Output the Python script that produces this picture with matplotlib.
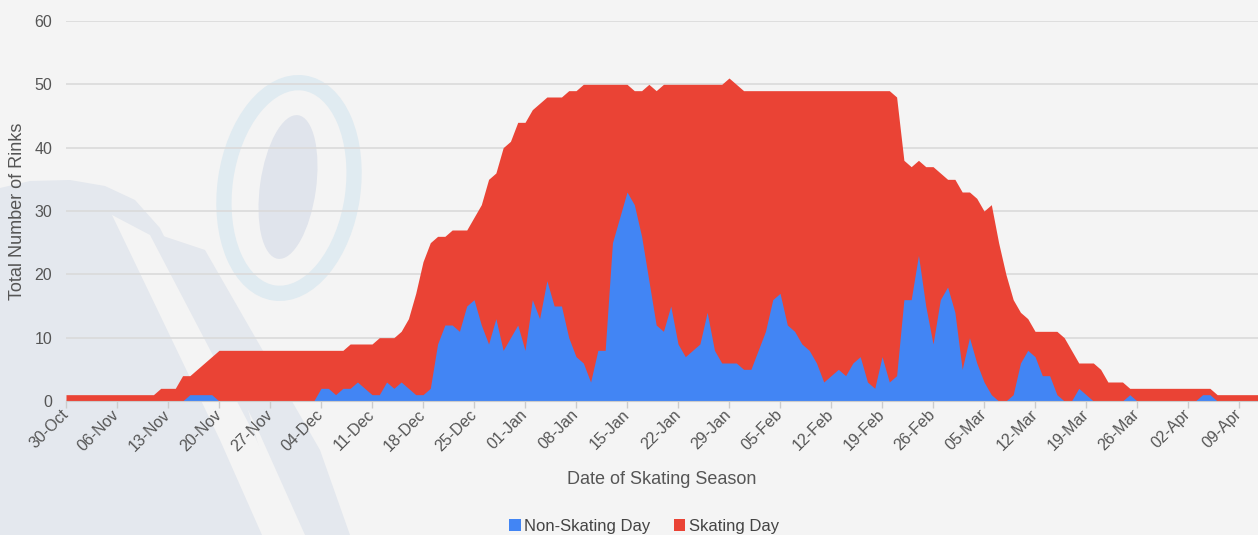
import numpy as np
import pandas as pd
import matplotlib
matplotlib.use('Agg')
import matplotlib.pyplot as plt
from matplotlib.patches import Ellipse, Polygon, Patch

plt.rcParams['font.family'] = ['Liberation Sans', 'DejaVu Sans']

# daily counts, 30-Oct to 12-Apr (one row per week)
total_rinks = [
    1, 1, 1, 1, 1, 1, 1,
    1, 1, 1, 1, 1, 1, 2,
    2, 2, 4, 4, 5, 6, 7,
    8, 8, 8, 8, 8, 8, 8,
    8, 8, 8, 8, 8, 8, 8,
    8, 8, 8, 8, 9, 9, 9,
    9, 10, 10, 10, 11, 13, 17,
    22, 25, 26, 26, 27, 27, 27,
    29, 31, 35, 36, 40, 41, 44,
    44, 46, 47, 48, 48, 48, 49,
    49, 50, 50, 50, 50, 50, 50,
    50, 49, 49, 50, 49, 50, 50,
    50, 50, 50, 50, 50, 50, 50,
    51, 50, 49, 49, 49, 49, 49,
    49, 49, 49, 49, 49, 49, 49,
    49, 49, 49, 49, 49, 49, 49,
    49, 49, 48, 38, 37, 38, 37,
    37, 36, 35, 35, 33, 33, 32,
    30, 31, 25, 20, 16, 14, 13,
    11, 11, 11, 11, 10, 8, 6,
    6, 6, 5, 3, 3, 3, 2,
    2, 2, 2, 2, 2, 2, 2,
    2, 2, 2, 2, 1, 1, 1,
    1, 1, 1, 1,
]
non_skating = [
    0, 0, 0, 0, 0, 0, 0,
    0, 0, 0, 0, 0, 0, 0,
    0, 0, 0, 1, 1, 1, 1,
    0, 0, 0, 0, 0, 0, 0,
    0, 0, 0, 0, 0, 0, 0,
    2, 2, 1, 2, 2, 3, 2,
    1, 1, 3, 2, 3, 2, 1,
    1, 2, 9, 12, 12, 11, 15,
    16, 12, 9, 13, 8, 10, 12,
    8, 16, 13, 19, 15, 15, 10,
    7, 6, 3, 8, 8, 25, 29,
    33, 31, 26, 19, 12, 11, 15,
    9, 7, 8, 9, 14, 8, 6,
    6, 6, 5, 5, 8, 11, 16,
    17, 12, 11, 9, 8, 6, 3,
    4, 5, 4, 6, 7, 3, 2,
    7, 3, 4, 16, 16, 23, 15,
    9, 16, 18, 14, 5, 10, 6,
    3, 1, 0, 0, 1, 6, 8,
    7, 4, 4, 1, 0, 0, 2,
    1, 0, 0, 0, 0, 0, 1,
    0, 0, 0, 0, 0, 0, 0,
    0, 0, 1, 1, 0, 0, 0,
    0, 0, 0, 0,
]
tick_labels = ['30-Oct', '06-Nov', '13-Nov', '20-Nov', '27-Nov', '04-Dec',
               '11-Dec', '18-Dec', '25-Dec', '01-Jan', '08-Jan', '15-Jan',
               '22-Jan', '29-Jan', '05-Feb', '12-Feb', '19-Feb', '26-Feb',
               '05-Mar', '12-Mar', '19-Mar', '26-Mar', '02-Apr', '09-Apr']

dates = pd.date_range('2022-10-30', periods=len(total_rinks), freq='D')
df = pd.DataFrame({'total': total_rinks, 'non_skating': non_skating}, index=dates)
df['skating'] = df['total'] - df['non_skating']
x = np.arange(len(df))

BLUE = '#4285f4'
RED = '#ea4335'
BG = '#f4f4f4'
TXT = '#555555'
WM = '#e4e8ee'

W, H = 1258, 535
fig = plt.figure(figsize=(W / 100, H / 100), dpi=100, facecolor=BG)

# faint logo watermark behind the plot
bg = fig.add_axes([0, 0, 1, 1])
bg.set_xlim(0, W)
bg.set_ylim(H, 0)
bg.axis('off')
bg.add_patch(Polygon([(0, 188), (30, 181), (70, 180), (105, 186), (135, 200), (160, 228),
                      (245, 400), (285, 535), (0, 535)],
                     closed=True, fc=WM, ec='none'))
bg.add_patch(Polygon([(112, 215), (150, 235), (252, 430), (300, 535), (262, 535), (220, 440)],
                     closed=True, fc=BG, ec='none'))
bg.add_patch(Polygon([(160, 235), (205, 250), (320, 450), (350, 535), (305, 535), (258, 430)],
                     closed=True, fc=WM, ec='none'))
bg.add_patch(Ellipse((289, 188), 128, 212, angle=8, fill=False, ec='#e0ebf1', lw=11))
bg.add_patch(Ellipse((288, 187), 56, 145, angle=8, fc='#e0e4ec', ec='none'))

ax = fig.add_axes([66 / W, (H - 401) / H, (W - 66) / W, 380 / H])
ax.set_facecolor('none')

ax.fill_between(x, 0, df['skating'] + df['non_skating'], color=RED, lw=0, zorder=2)
ax.fill_between(x, 0, df['non_skating'], color=BLUE, lw=0, zorder=3)

ax.set_xlim(0, (W - 66) / 7.286)
ax.set_ylim(0, 60)
ax.set_yticks(range(0, 61, 10))
ax.grid(axis='y', color='#dadada', lw=1.2, zorder=1)
ax.set_axisbelow(True)

ax.set_xticks(np.arange(0, len(tick_labels) * 7, 7))
ax.set_xticklabels(tick_labels, rotation=45, ha='right', va='center',
                   rotation_mode='anchor')
ax.tick_params(axis='x', length=5, width=1, color='#cccccc', labelcolor=TXT,
               labelsize=11.5, pad=3)
ax.tick_params(axis='y', length=0, labelcolor=TXT, labelsize=11.5, pad=10)

for s in ['top', 'right', 'left']:
    ax.spines[s].set_visible(False)
ax.spines['bottom'].set_color('#cccccc')
ax.spines['bottom'].set_zorder(4)

fig.text(18 / W, 1 - 211 / H, 'Total Number of Rinks', rotation=90,
         ha='center', va='center', fontsize=13, color=TXT)
fig.text(662 / W, 1 - 479 / H, 'Date of Skating Season',
         ha='center', va='center', fontsize=13, color=TXT)

handles = [Patch(fc=BLUE, ec='none', label='Non-Skating Day'),
           Patch(fc=RED, ec='none', label='Skating Day')]
fig.legend(handles=handles, loc='center', bbox_to_anchor=(644 / W, 1 - 526 / H),
           ncol=2, frameon=False, fontsize=12, handlelength=0.7, handleheight=0.7,
           handletextpad=0.2, columnspacing=1.4, labelcolor='#444444')

fig.savefig('out.png', dpi=100, facecolor=BG)
